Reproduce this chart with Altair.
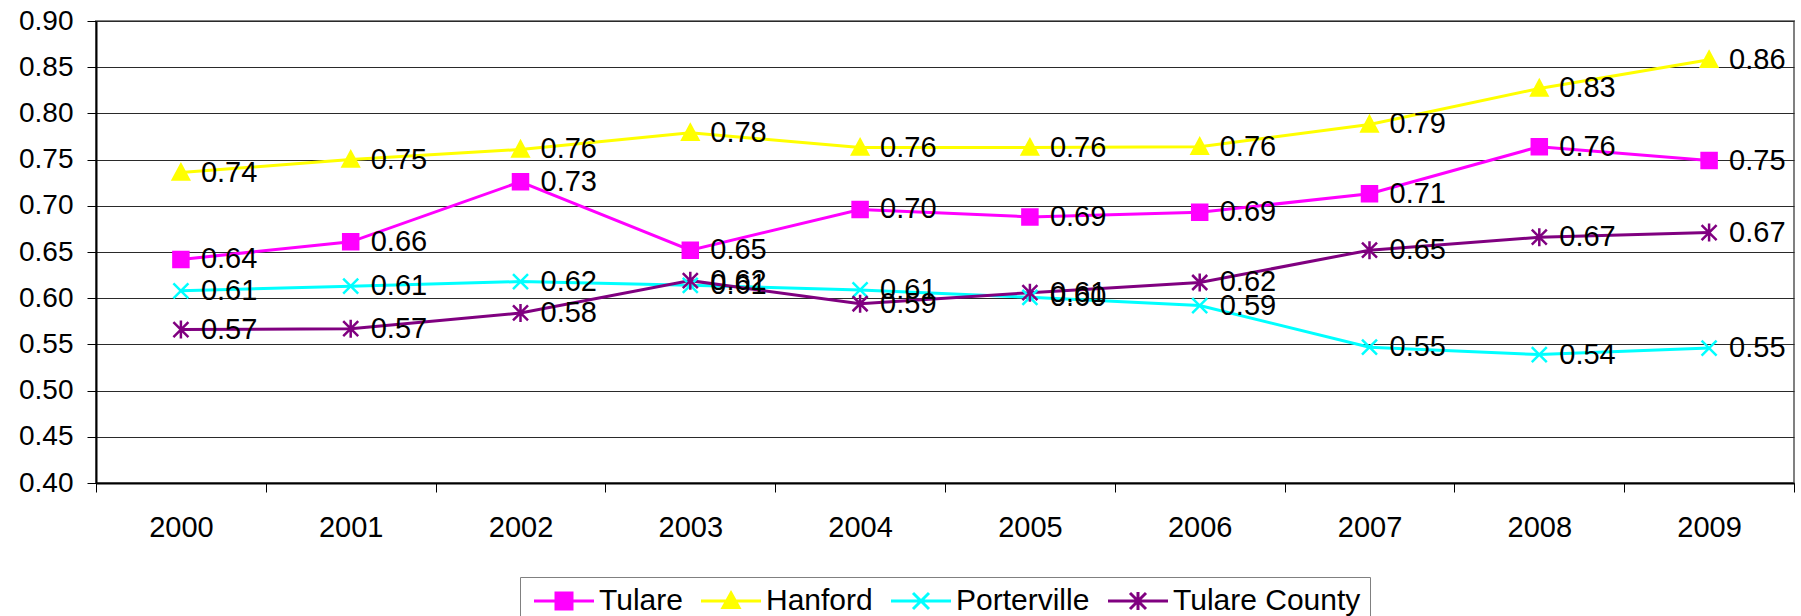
import altair as alt
import pandas as pd

# ---- data -------------------------------------------------------------
years = ["2000", "2001", "2002", "2003", "2004", "2005", "2006", "2007", "2008", "2009"]
series_names = ["Tulare", "Hanford", "Porterville", "Tulare County"]

tulare = [0.642, 0.661, 0.726, 0.652, 0.696, 0.688, 0.693, 0.713, 0.764, 0.749]
hanford = [0.736, 0.750, 0.761, 0.779, 0.763, 0.763, 0.764, 0.788, 0.827, 0.858]
porterville = [0.608, 0.613, 0.618, 0.614, 0.609, 0.601, 0.592, 0.547, 0.539, 0.546]
tulare_county = [0.566, 0.567, 0.584, 0.619, 0.594, 0.606, 0.617, 0.652, 0.666, 0.671]

y_ticks = [0.40, 0.45, 0.50, 0.55, 0.60, 0.65, 0.70, 0.75, 0.80, 0.85, 0.90]

# ---- styling ----------------------------------------------------------
colors = ["#FF00FF", "#FFFF00", "#00FFFF", "#800080"]

# marker glyphs (custom symbol paths, unit = sqrt(size)/2)
marker_paths = [
    "M-0.75,-0.75H0.75V0.75H-0.75Z",                                   # square
    "M0,-0.8L0.8,0.7H-0.8Z",                                           # triangle
    "M-0.75,-0.75L0.75,0.75M-0.75,0.75L0.75,-0.75",                    # x
    "M-0.75,-0.75L0.75,0.75M-0.75,0.75L0.75,-0.75M0,-0.9V0.9",         # asterisk
]
# legend glyphs: line segment with the marker in its middle
legend_paths = [
    "M-1,0H5M1.2,-0.8H2.8V0.8H1.2Z",
    "M-1,0H5M2,-0.8L2.8,0.65H1.2Z",
    "M-1,0H5M1.2,-0.8L2.8,0.8M1.2,0.8L2.8,-0.8",
    "M-1,0H5M1.2,-0.8L2.8,0.8M1.2,0.8L2.8,-0.8M2,-0.9V0.9",
]

FONT = "Liberation Sans"

rows = []
for name, vals in zip(series_names, [tulare, hanford, porterville, tulare_county]):
    for yr, v in zip(years, vals):
        rows.append({"year": yr, "series": name, "value": v})
df = pd.DataFrame(rows)

x_enc = alt.X(
    "year:O",
    sort=years,
    scale=alt.Scale(type="band", paddingInner=0, paddingOuter=0),
    axis=alt.Axis(
        title=None, labelAngle=0, tickBand="extent", tickSize=9,
        tickColor="black", tickWidth=1, domainColor="black", domainWidth=2,
        labelFont=FONT, labelFontSize=29, labelColor="black", labelPadding=21,
        grid=False,
    ),
)
y_enc = alt.Y(
    "value:Q",
    scale=alt.Scale(domain=[0.40, 0.90], nice=False, zero=False),
    axis=alt.Axis(
        title=None, values=y_ticks, format=".2f", tickSize=9,
        tickColor="black", tickWidth=1, domainColor="black", domainWidth=2,
        labelFont=FONT, labelFontSize=28, labelColor="black", labelPadding=14,
        grid=True, gridColor="#2a2a2a", gridWidth=1,
    ),
)

col_scale = alt.Scale(domain=series_names, range=colors)

lines = alt.Chart(df).mark_line(strokeWidth=3).encode(
    x=x_enc, y=y_enc,
    color=alt.Color("series:N", scale=col_scale, legend=None),
)

points = alt.Chart(df).mark_point(size=400, strokeWidth=2.5, opacity=1).encode(
    x=x_enc, y=y_enc,
    fill=alt.Fill("series:N", scale=col_scale, legend=None),
    stroke=alt.Stroke("series:N", scale=col_scale, legend=None),
    shape=alt.Shape("series:N", scale=alt.Scale(domain=series_names, range=marker_paths), legend=None),
)

labels = alt.Chart(df).mark_text(
    align="left", baseline="middle", dx=20, font=FONT, fontSize=29, color="black"
).encode(
    x=x_enc, y=y_enc,
    text=alt.Text("value:Q", format=".2f"),
)

legend_spec = alt.Legend(
    title=None, orient="none", legendX=424, legendY=556, direction="horizontal",
    strokeColor="#808080", fillColor="white", padding=9,
    labelFont=FONT, labelFontSize=30, labelColor="black", labelLimit=400,
    labelOffset=40, columnPadding=12, symbolSize=400, symbolStrokeWidth=3,
)

legend_carrier = alt.Chart(df).transform_filter("false").mark_point(
    size=400, strokeWidth=3, opacity=1
).encode(
    fill=alt.Fill("series:N", scale=col_scale, legend=legend_spec),
    stroke=alt.Stroke("series:N", scale=col_scale, legend=legend_spec),
    shape=alt.Shape("series:N", scale=alt.Scale(domain=series_names, range=legend_paths), legend=legend_spec),
)

chart = (
    alt.layer(lines, points, labels, legend_carrier)
    .resolve_scale(fill="independent", stroke="independent", shape="independent")
    .resolve_legend(fill="independent", stroke="independent", shape="independent")
    .properties(
        width=1698,
        height=462,
        autosize=alt.AutoSizeParams(type="none"),
        padding={"left": 96, "top": 21, "right": 7, "bottom": 133},
        background="white",
    )
    .configure_view(fill="#C0C0C0", stroke="#808080", strokeWidth=2)
)

chart.save("out.html", embed_options={"renderer": "svg", "actions": False})
